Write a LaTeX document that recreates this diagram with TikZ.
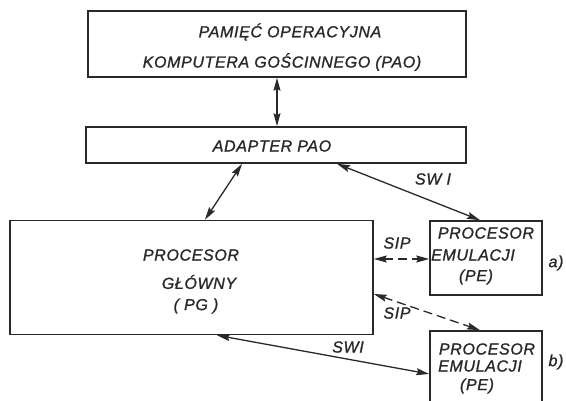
\documentclass[tikz,border=0pt]{standalone}
\usepackage{fontspec}
\setmainfont{Liberation Sans}[LetterSpace=4, FakeBold=1.2]
\usetikzlibrary{arrows.meta}
\definecolor{ink}{rgb}{0.16,0.16,0.16}
\tikzset{
  box/.style={draw=ink, line width=1.6pt, rectangle, inner sep=0pt},
  lbl/.style={text=ink, font=\fontsize{16}{18}\selectfont\itshape, inner sep=0pt, anchor=center},
  link/.style={draw=ink, line width=1.3pt, {Stealth[length=13pt,width=7pt,inset=2pt]}-{Stealth[length=13pt,width=7pt,inset=2pt]}},
  dlink/.style={link, dash pattern=on 9pt off 5pt},
}
\begin{document}
\begin{tikzpicture}[x=1pt,y=-1pt]
\clip (0,0) rectangle (566,401);
\fill[white] (0,0) rectangle (566,401);
% boxes
\node[box, minimum width=378pt, minimum height=66pt] (pao) at (277,44) {};
\node[box, minimum width=380pt, minimum height=36pt] (adapter) at (276,145) {};
\node[box, minimum width=363pt, minimum height=114pt] (pg) at (191.5,277.5) {};
\node[box, minimum width=112pt, minimum height=74pt] (pea) at (486,258) {};
\node[box, minimum width=112pt, minimum height=74pt] (peb) at (486,368) {};
% texts
\node[lbl] (t1) at (290,32) {PAMIĘĆ OPERACYJNA};
\node[lbl] (t2) at (282,62) {KOMPUTERA GOŚCINNEGO (PAO)};
\node[lbl] (t3) at (272,146) {ADAPTER PAO};
\node[lbl] (t4) at (191,255) {PROCESOR};
\node[lbl] (t5) at (199,282) {GŁÓWNY};
\node[lbl] (t6) at (196,306) {( PG )};
\node[lbl] (t7) at (486,233) {PROCESOR};
\node[lbl] (t8) at (473,255) {EMULACJI};
\node[lbl] (t9) at (476,277) {(PE)};
\node[lbl] (t10) at (487,349) {PROCESOR};
\node[lbl] (t11) at (480,366) {EMULACJI};
\node[lbl] (t12) at (477,386) {(PE)};
\node[lbl] (swia) at (433,179) {SW I};
\node[lbl] (sipa) at (397,243) {SIP};
\node[lbl] (sipb) at (397,313) {SIP};
\node[lbl] (swib) at (348,347) {SWI};
\node[lbl] (la) at (556,263) {a)};
\node[lbl] (lb) at (556,362) {b)};
% connectors
\draw[link] (pao.south) -- (pao.south |- adapter.north);
\draw[link] ([xshift=-34pt]adapter.south) -- ([xshift=13.5pt]pg.north);
\draw[link] ([xshift=61pt]adapter.south) -- ([xshift=-6pt]pea.north);
\draw[dlink] ([yshift=18.5pt]pg.east) -- ([yshift=18.5pt]pg.east -| pea.west);
\draw[dlink] ([yshift=-16.5pt]pg.east) -- ([xshift=-6pt]peb.north);
\draw[link] ([xshift=25.5pt]pg.south) -- ([yshift=-6pt]peb.west);
\end{tikzpicture}
\end{document}
